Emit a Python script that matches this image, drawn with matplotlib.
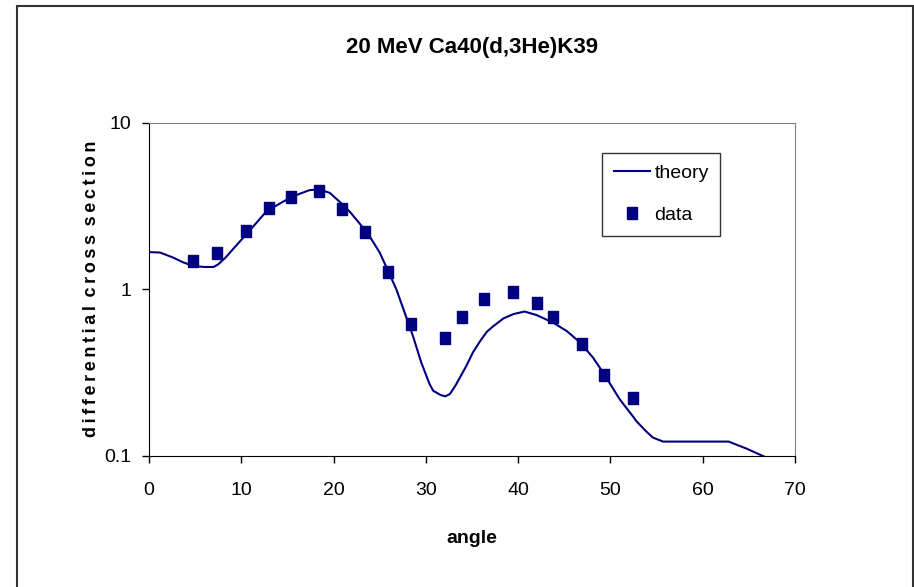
import matplotlib
matplotlib.use("Agg")
import matplotlib.pyplot as plt
from matplotlib import font_manager
from matplotlib.patches import Rectangle
from matplotlib.ticker import FixedLocator, NullLocator, FixedFormatter

# pick a narrow font if there is one
names = set(f.name for f in font_manager.fontManager.ttflist)
fam = "Liberation Sans Narrow" if "Liberation Sans Narrow" in names else "Liberation Sans"
plt.rcParams['font.family'] = [fam, 'DejaVu Sans']

# theory curve
theory_x = [0, 1.2, 2.6, 3.7, 4.8, 6.0, 7.0, 7.5, 8.3, 9.1, 10.6, 12.75, 13.9, 15.3, 16.4,
            17.4, 18.5, 19.6, 20.7, 21.8, 22.9, 23.9, 25.0, 25.9, 26.8, 27.7, 28.6, 29.5,
            30.4, 30.8, 31.6, 32.1, 32.6, 33.2, 33.9, 34.4, 35.1, 35.9, 36.6, 37.3, 38.4,
            39.5, 40.7, 42.0, 43.8, 45.3, 46.7, 48.1, 49.2, 51.0, 52.5, 52.8, 53.9, 54.6,
            55.7, 62.8, 64.7, 67.6]
theory_y = [1.67, 1.66, 1.55, 1.45, 1.38, 1.36, 1.36, 1.41, 1.55, 1.74, 2.15, 2.94, 3.2, 3.54, 3.75,
            3.93, 3.97, 3.78, 3.33, 2.9, 2.45, 2.08, 1.66, 1.29, 1.0, 0.725, 0.525, 0.364,
            0.27, 0.246, 0.232, 0.228, 0.235, 0.264, 0.31, 0.348, 0.418, 0.49, 0.555, 0.60, 0.668,
            0.71, 0.735, 0.70, 0.63, 0.56, 0.48, 0.39, 0.317, 0.219, 0.171, 0.162, 0.14, 0.129,
            0.122, 0.122, 0.111, 0.094]

# measured points
data_x = [4.8, 7.4, 10.5, 13.0, 15.4, 18.45, 20.9, 23.4, 25.9, 28.4, 32.1, 33.9,
          36.3, 39.4, 42.0, 43.8, 46.9, 49.3, 52.4]
data_y = [1.47, 1.64, 2.25, 3.07, 3.56, 3.90, 3.01, 2.19, 1.27, 0.62, 0.51, 0.68,
          0.88, 0.96, 0.83, 0.68, 0.47, 0.305, 0.223]

navy = '#000080'

fig = plt.figure(figsize=(9.14, 5.87), dpi=100)
ax = fig.add_axes([0.163, 0.2232, 0.7068, 0.5681])

ax.plot(theory_x, theory_y, color=navy, lw=1.5, label='theory')
rect = [(-0.4, -0.5), (0.4, -0.5), (0.4, 0.5), (-0.4, 0.5), (-0.4, -0.5)]
ax.plot(data_x, data_y, linestyle='None', marker=rect, markersize=8.5,
        color=navy, label='data')

ax.set_yscale('log')
ax.set_xlim(0, 70)
ax.set_ylim(0.1, 10)
ax.yaxis.set_major_locator(FixedLocator([0.1, 1, 10]))
ax.yaxis.set_major_formatter(FixedFormatter(['0.1', '1', '10']))
ax.yaxis.set_minor_locator(NullLocator())
ax.set_xticks(range(0, 71, 10))
ax.tick_params(direction='out', length=5, width=1, labelsize=14)
ax.tick_params(axis='x', pad=14)
ax.tick_params(axis='y', pad=8)

for s in ['top', 'right']:
    ax.spines[s].set_color('#808080')
for s in ['left', 'bottom']:
    ax.spines[s].set_color('black')

ax.set_title('20 MeV Ca40(d,3He)K39', fontsize=16, fontweight='bold', pad=50)
ax.set_xlabel('angle', fontsize=14, fontweight='bold', labelpad=22)
ylab = '\u2009'.join('differential') + '\u2009 ' + '\u2009'.join('cross') + '\u2009 ' + '\u2009'.join('section')
ax.set_ylabel(ylab, fontsize=13, fontweight='bold', labelpad=3)

leg = ax.legend(loc='upper left', bbox_to_anchor=(0.701, 0.909), fontsize=14,
                frameon=True, fancybox=False, edgecolor='black', borderpad=0.6,
                handlelength=1.9, handletextpad=0.2, labelspacing=1.25,
                borderaxespad=0)
leg.get_frame().set_linewidth(1)

# outer frame of the chart
fig.patches.append(Rectangle((17 / 914, -0.05), (913 - 17) / 914, 1.05 - 6 / 587,
                             transform=fig.transFigure, fill=False,
                             edgecolor='#333333', lw=1.5))

fig.savefig('out.png', dpi=100)
